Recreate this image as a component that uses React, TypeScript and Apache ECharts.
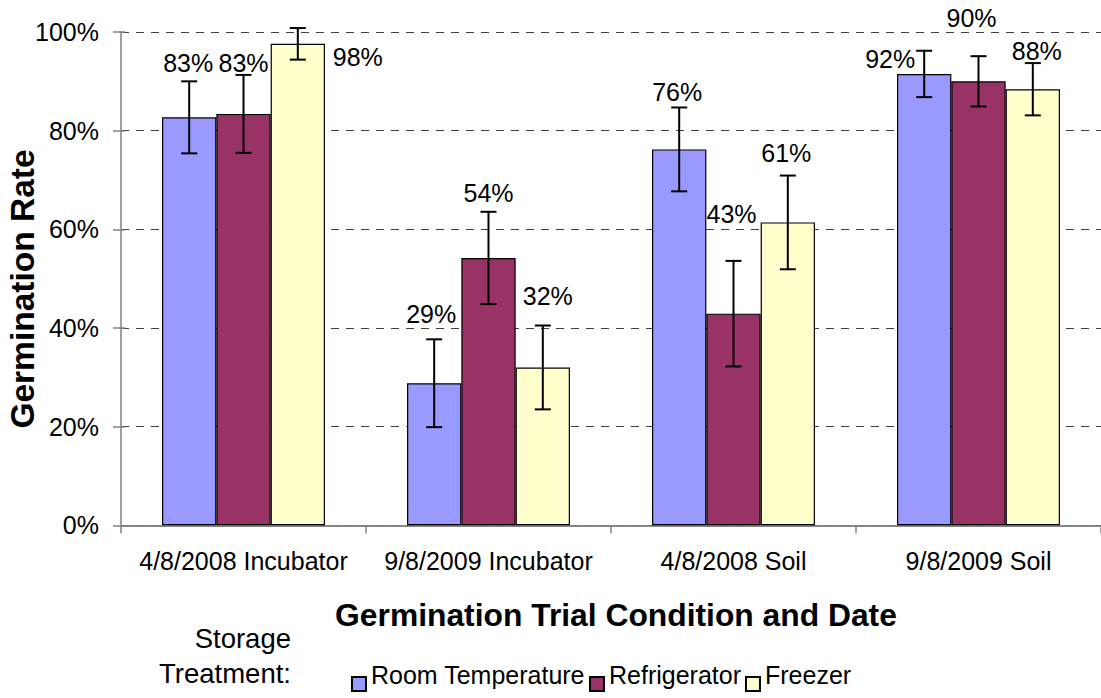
import React, { useEffect, useRef } from "react";
import * as echarts from "echarts";

const categories = ["4/8/2008 Incubator", "9/8/2009 Incubator", "4/8/2008 Soil", "9/8/2009 Soil"];
const seriesNames = ["Room Temperature", "Refrigerator", "Freezer"];
const roomTemp = [82.7, 28.8, 76.2, 91.5];
const refrigerator = [83.4, 54.2, 42.9, 90.0];
const freezer = [97.6, 32.0, 61.4, 88.4];
const roomTempErr = [7.3, 8.9, 8.5, 4.7];
const refrigeratorErr = [7.9, 9.35, 10.7, 5.1];
const freezerErr = [3.2, 8.5, 9.5, 5.3];
const yMin = 0;
const yMax = 100;
const yStep = 20;

// layout / style (pixel label offsets relative to default "top" placement)
const labelOffsets = [
  [[-1, -36.5], [-3, -52], [-2, -39.6], [-34, 3]],
  [[0, -33.5], [0, -47], [-2, -81.7], [-7, -46.3]],
  [[60, 30.5], [5, -54], [-1.5, -52], [4, -20.8]],
];
const colors = ["#9999FF", "#993366", "#FFFFCC"];
const FONT = "'Liberation Sans', Arial, Helvetica, sans-serif";
const GAP = 0.335;
// legend marker: square sitting low, level with the text baseline
const LEGEND_ICON = "path://M0,0L0,0M0,18L14,18L14,32L0,32Z";

export default function App() {
  const ref = useRef<HTMLDivElement>(null);
  useEffect(() => {
    if (!ref.current) return;
    const chart = echarts.init(ref.current, null, { renderer: "svg" });
    const values = [roomTemp, refrigerator, freezer];
    const errs = [roomTempErr, refrigeratorErr, freezerErr];

    const barSeries = values.map((vals, k) => ({
      name: seriesNames[k],
      type: "bar",
      xAxisIndex: 0,
      yAxisIndex: 0,
      barGap: "0%",
      barCategoryGap: GAP * 100 + "%",
      itemStyle: { color: colors[k], borderColor: "#000", borderWidth: 1.2 },
      label: {
        show: true,
        position: "top",
        distance: 5,
        color: "#000",
        fontSize: 25,
        fontFamily: FONT,
        formatter: (p: any) => Math.round(p.value) + "%",
      },
      data: vals.map((v, i) => ({ value: v, label: { offset: labelOffsets[k][i] } })),
      z: 2,
    }));

    const errSeries = values.map((vals, k) => ({
      name: "err" + k,
      type: "custom",
      xAxisIndex: 0,
      yAxisIndex: 0,
      z: 5,
      renderItem: (params: any, api: any) => {
        const cat = api.value(0);
        const lo = api.value(1);
        const hi = api.value(2);
        const bandW = api.size([1, 0])[0];
        const groupW = bandW * (1 - GAP);
        const barW = groupW / 3;
        const b = api.coord([cat, lo]);
        const t = api.coord([cat, hi]);
        const cx = b[0] - groupW / 2 + barW * (k + 0.5);
        const cap = 8;
        const st = { stroke: "#000", lineWidth: 2 };
        return {
          type: "group",
          children: [
            { type: "line", shape: { x1: cx, y1: t[1], x2: cx, y2: b[1] }, style: st },
            { type: "line", shape: { x1: cx - cap, y1: t[1], x2: cx + cap, y2: t[1] }, style: st },
            { type: "line", shape: { x1: cx - cap, y1: b[1], x2: cx + cap, y2: b[1] }, style: st },
          ],
        };
      },
      data: vals.map((v, i) => [i, v - errs[k][i], v + errs[k][i]]),
    }));

    chart.setOption({
      animation: false,
      backgroundColor: "#fff",
      textStyle: { fontFamily: FONT },
      grid: { left: 121, top: 32, width: 987, height: 493.3, containLabel: false },
      legend: {
        data: seriesNames,
        left: 346,
        top: 653,
        icon: LEGEND_ICON,
        itemWidth: 14,
        itemHeight: 32,
        itemGap: 4,
        textStyle: { fontSize: 25, color: "#000", fontFamily: FONT },
        selectedMode: false,
      },
      xAxis: [
        {
          type: "category",
          data: categories,
          position: "bottom",
          axisLine: { lineStyle: { color: "#808080", width: 1.5 } },
          axisTick: { show: true, length: 8, lineStyle: { color: "#808080", width: 1.5 } },
          axisLabel: { fontSize: 25, color: "#000", margin: 23, fontFamily: FONT, interval: 0 },
          splitLine: { show: false },
        },
        {
          type: "category",
          data: categories,
          position: "top",
          axisLine: { show: true, lineStyle: { color: "#808080", width: 1.5 } },
          axisTick: { show: false },
          axisLabel: { show: false },
          splitLine: { show: false },
        },
      ],
      yAxis: [
        {
          type: "value",
          min: yMin,
          max: yMax,
          interval: yStep,
          axisLine: { show: true, lineStyle: { color: "#808080", width: 1.5 } },
          axisTick: { show: true, length: 8, lineStyle: { color: "#808080", width: 1.5 } },
          axisLabel: {
            fontSize: 25,
            color: "#000",
            margin: 22,
            fontFamily: FONT,
            formatter: (v: number) => v + "%",
          },
          splitLine: { show: true, lineStyle: { color: "#404040", type: [8, 7], width: 1 } },
        },
        {
          type: "value",
          min: yMin,
          max: yMax,
          interval: yStep,
          position: "left",
          axisLine: { show: false },
          axisTick: { show: true, inside: true, length: 4, lineStyle: { color: "#808080", width: 1.5 } },
          axisLabel: { show: false },
          splitLine: { show: false },
        },
      ],
      graphic: [
        {
          type: "text",
          x: 22.5,
          y: 289,
          rotation: Math.PI / 2,
          style: {
            text: "Germination Rate",
            fontSize: 33.5,
            fontWeight: "bold",
            fontFamily: FONT,
            fill: "#000",
            align: "center",
            verticalAlign: "middle",
          },
        },
        {
          type: "text",
          x: 616,
          y: 614.5,
          style: {
            text: "Germination Trial Condition and Date",
            fontSize: 31.8,
            fontWeight: "bold",
            fontFamily: FONT,
            fill: "#000",
            align: "center",
            verticalAlign: "middle",
          },
        },
        {
          type: "text",
          x: 291,
          y: 638.5,
          style: { text: "Storage", fontSize: 27.5, fontFamily: FONT, fill: "#000", align: "right", verticalAlign: "middle" },
        },
        {
          type: "text",
          x: 291,
          y: 673.5,
          style: { text: "Treatment:", fontSize: 27.5, fontFamily: FONT, fill: "#000", align: "right", verticalAlign: "middle" },
        },
      ],
      series: [...barSeries, ...errSeries],
    });
    return () => chart.dispose();
  }, []);
  return <div ref={ref} style={{ position: "fixed", left: 0, top: 0, width: 1101, height: 698 }} />;
}
